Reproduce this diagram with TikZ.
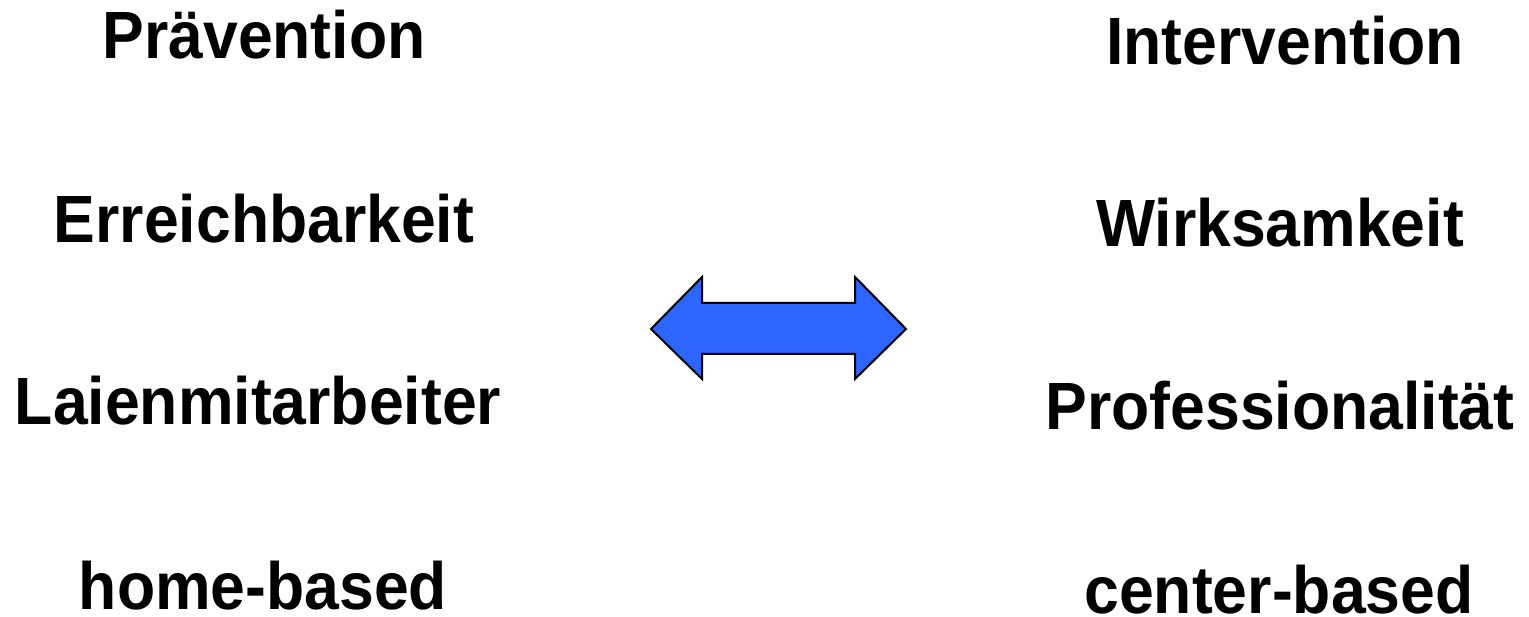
\documentclass[tikz,border=0pt]{standalone}
\usepackage{fontspec}
\setmainfont{Liberation Sans}
\definecolor{arrowblue}{RGB}{44,102,255}
\newcommand{\lbltext}[1]{\scalebox{1}[1.07]{#1}}
\begin{document}
\begin{tikzpicture}[x=1pt,y=1pt,
  lbl/.style={anchor=base,inner sep=0pt,font=\fontsize{62.5}{70}\selectfont\bfseries},
  dblarrow/.style={fill=arrowblue,draw=black,line width=2pt,line join=miter}]
\useasboundingbox (0,0) rectangle (1529,616);
\node[lbl] (praev) at (264,557) {\lbltext{Prävention}};
\node[lbl] (erreich) at (264,373) {\lbltext{Erreichbarkeit}};
\node[lbl] (laien) at (258,191) {\lbltext{Laienmitarbeiter}};
\node[lbl] (home) at (263,6) {\lbltext{home-based}};
\node[lbl] (inter) at (1285,551) {\lbltext{Intervention}};
\node[lbl] (wirk) at (1280,369) {\lbltext{Wirksamkeit}};
\node[lbl] (prof) at (1280,186) {\lbltext{Professionalität}};
\node[lbl] (center) at (1279,3) {\lbltext{center-based}};
\draw[dblarrow] (651,287) -- (702,339) -- (702,313) -- (855,313) -- (855,339) -- (906,287) -- (855,237) -- (855,262) -- (702,262) -- (702,237) -- cycle;
\end{tikzpicture}
\end{document}
